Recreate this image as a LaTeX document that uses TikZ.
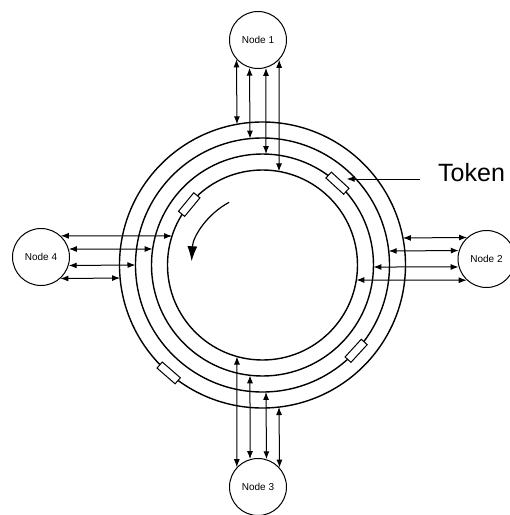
\documentclass[tikz,border=0pt]{standalone}
\usepackage{fontspec}
\setmainfont{Liberation Sans}
\usetikzlibrary{arrows.meta}

\newcommand\stationr{28.5}

\tikzset{
  station/.style={draw,circle,line width=1pt,minimum size=57pt,inner sep=0pt,
    font=\fontsize{10}{12}\selectfont},
  ring/.style={line width=1.4pt},
  link/.style={{Latex[length=8pt,width=6pt]}-{Latex[length=8pt,width=6pt]},line width=1pt},
  token/.style={draw,fill=white,line width=1pt,minimum width=24pt,minimum height=8pt,inner sep=0pt},
  spin/.style={-{Latex[length=15pt,width=10pt]},line width=1.2pt},
}

\begin{document}
\begin{tikzpicture}[x=1pt,y=1pt]
  \useasboundingbox (-262.5,-250) rectangle (247.5,265);

  % the four rings
  \foreach \r in {95,111,127,143}
    \draw[ring] (0,0) circle (\r pt);

  % tokens sitting on the rings
  \node[token,rotate=137.5] (tok1) at (47.5:111) {};
  \node[token,rotate=230.5] (tok2) at (140.5:95) {};
  \node[token,rotate=47.5]  (tok3) at (-42.5:127) {};
  \node[token,rotate=-41]   (tok4) at (-131:143) {};

  \node[font=\fontsize{25}{30}\selectfont,inner ysep=0pt,inner xsep=18pt,anchor=mid west]
    (lbl) at (157.5,86) {Token};
  \draw[-{Latex[length=8pt,width=6pt]},line width=1pt] (lbl.mid west) -- (lbl.mid west -| tok1.west);

  % stations
  \node[station] (n1) at (-4.5,225)  {Node 1};
  \node[station] (n2) at (224,6)     {Node 2};
  \node[station] (n3) at (-4.5,-222) {Node 3};
  \node[station] (n4) at (-221.5,8)  {Node 4};

  % each station reaches every ring with one line
  \foreach \nd/\px/\py/\f in {n1/-4.5/225/90,n2/224/6/0,n3/-4.5/-222/-90,n4/-221.5/8/180}
    \foreach \a/\rr in {-21/143,-8/127,8/111,21/95}{
      \pgfmathsetmacro\qx{\px+\a*sin(\f)}
      \pgfmathsetmacro\qy{\py-\a*cos(\f)}
      \pgfmathsetmacro\qd{-(\qx*cos(\f)+\qy*sin(\f))}
      \pgfmathsetmacro\qw{\qx*sin(\f)-\qy*cos(\f)}
      \pgfmathsetmacro\sd{-\qd-\rr*sqrt(1-(\qw/\rr)^2)}
      \coordinate (\nd-\rr) at ({\qx-\sd*cos(\f)},{\qy-\sd*sin(\f)});
      \draw[link] (\nd.{\f+180+asin(\a/\stationr)}) -- (\nd-\rr);
    }

  % direction of travel
  \draw[spin] (118:71) arc[start angle=118,end angle=177,radius=71pt];
\end{tikzpicture}
\end{document}
